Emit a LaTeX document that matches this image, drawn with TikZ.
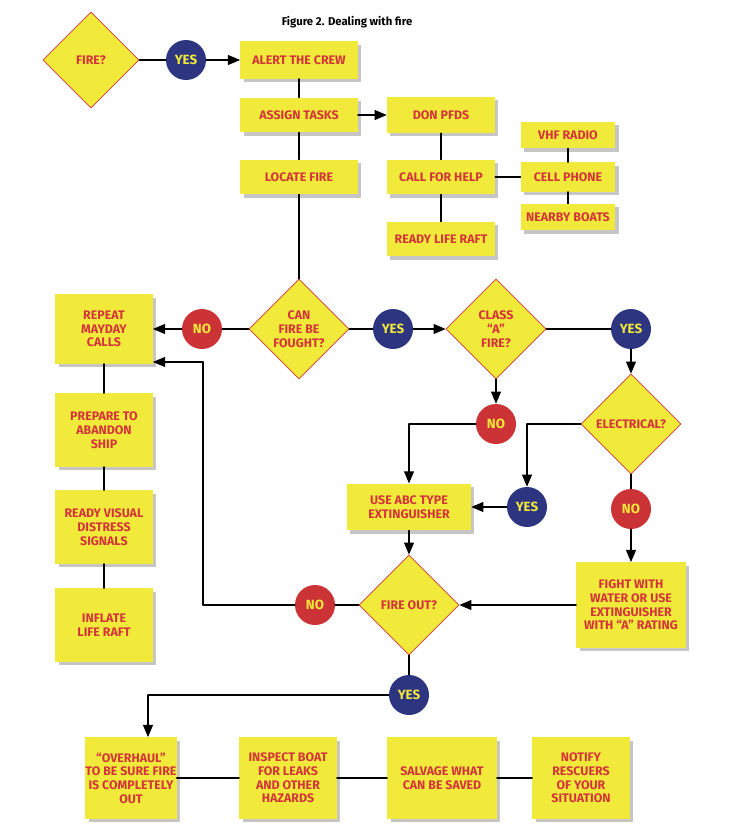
\documentclass[tikz,border=0pt]{standalone}
\usepackage{fontspec}
\setmainfont{Fira Sans}
\usetikzlibrary{arrows,shapes.geometric,shadows}
\definecolor{boxyel}{HTML}{F2EA3A}
\definecolor{txtred}{HTML}{D3353A}
\definecolor{yesblue}{HTML}{2E3580}
\definecolor{nored}{HTML}{CC3336}
\tikzset{
  task/.style={fill=boxyel,text=txtred,font=\bfseries\fontsize{9.3}{10.3}\selectfont,align=center,inner sep=0pt,
    drop shadow={shadow xshift=2.5pt,shadow yshift=-2.5pt,opacity=0.45}},
  ask/.style={diamond,draw=txtred,line width=0.5pt,fill=boxyel,text=txtred,font=\bfseries\fontsize{9.3}{10.3}\selectfont,
    align=center,minimum width=75pt,minimum height=75pt,inner sep=0pt},
  yes/.style={circle,fill=yesblue,text=boxyel,font=\bfseries\fontsize{10}{11}\selectfont,minimum size=30pt,inner sep=0pt},
  no/.style={circle,fill=nored,text=boxyel,font=\bfseries\fontsize{10}{11}\selectfont,minimum size=30pt,inner sep=0pt},
  link/.style={line width=1.1pt},
  go/.style={line width=1.1pt,-triangle 45}
}
\begin{document}
\begin{tikzpicture}[x=0.75pt,y=-0.75pt,line cap=round,line join=round]
\useasboundingbox (0,0) rectangle (748,836);
\node[font=\bfseries\fontsize{8.5}{9.5}\selectfont] (title) at (347,22) {Figure 2. Dealing with fire};
% top part
\node[ask,minimum width=72pt,minimum height=72pt] (fire) at (91,60) {FIRE?};
\node[yes] (y1) at (186,60) {YES};
\node[task,minimum width=88pt,minimum height=28pt] (alert) at (299,60) {ALERT THE CREW};
\node[task,minimum width=88pt,minimum height=26pt] (assign) at (299,115) {ASSIGN TASKS};
\node[task,minimum width=88pt,minimum height=26pt] (locate) at (299,177) {LOCATE FIRE};
\node[task,minimum width=81pt,minimum height=27pt] (don) at (441,115) {DON PFDS};
\node[task,minimum width=81pt,minimum height=26pt] (call) at (441,177) {CALL FOR HELP};
\node[task,minimum width=81pt,minimum height=26pt] (raft) at (441,239) {READY LIFE RAFT};
\node[task,minimum width=71pt,minimum height=20pt] (vhf) at (568,135) {VHF RADIO};
\node[task,minimum width=71pt,minimum height=22pt] (cell) at (568,177) {CELL PHONE};
\node[task,minimum width=71pt,minimum height=20pt] (boats) at (568,217) {NEARBY BOATS};
% middle
\node[ask] (fought) at (299,329) {CAN\\FIRE BE\\FOUGHT?};
\node[no] (n1) at (202,329) {NO};
\node[yes] (y2) at (393,329) {YES};
\node[ask] (classa) at (496,329) {CLASS\\``A''\\FIRE?};
\node[yes] (y3) at (631,329) {YES};
\node[ask] (elec) at (631,424) {ELECTRICAL?};
\node[no] (n2) at (496,424) {NO};
\node[task,minimum width=93pt,minimum height=35pt] (abc) at (409,507) {USE ABC TYPE\\EXTINGUISHER};
\node[yes] (y4) at (527,507) {YES};
\node[no] (n3) at (631,509) {NO};
\node[task,minimum width=82pt,minimum height=64pt] (water) at (631,605) {FIGHT WITH\\WATER OR USE\\EXTINGUISHER\\WITH ``A'' RATING};
\node[ask] (out) at (409,605) {FIRE OUT?};
\node[no] (n4) at (315,605) {NO};
\node[yes] (y5) at (409,695) {YES};
% left column
\node[task,minimum width=73pt,minimum height=52pt] (mayday) at (104,329) {REPEAT\\MAYDAY\\CALLS};
\node[task,minimum width=73pt,minimum height=55pt] (abandon) at (104,430) {PREPARE TO\\ABANDON\\SHIP};
\node[task,minimum width=73pt,minimum height=55pt] (signals) at (104,527) {READY VISUAL\\DISTRESS\\SIGNALS};
\node[task,minimum width=73pt,minimum height=55pt] (inflate) at (104,625) {INFLATE\\LIFE RAFT};
% bottom row
\node[task,minimum width=62pt,minimum height=61pt] (overhaul) at (131,778) {``OVERHAUL''\\TO BE SURE FIRE\\IS COMPLETELY\\OUT};
\node[task,minimum width=73pt,minimum height=61pt] (inspect) at (288,778) {INSPECT BOAT\\FOR LEAKS\\AND OTHER\\HAZARDS};
\node[task,minimum width=82pt,minimum height=61pt] (salvage) at (442,778) {SALVAGE WHAT\\CAN BE SAVED};
\node[task,minimum width=73pt,minimum height=61pt] (notify) at (581,778) {NOTIFY\\RESCUERS\\OF YOUR\\SITUATION};
\coordinate (c1) at (409,424);
\coordinate (c2) at (527,424);
\coordinate (c3) at (203,605);
\coordinate (c4) at (203,362);
\coordinate (c5) at (148,695);
% connectors
\draw[link] (fire) -- (y1);
\draw[go] (y1) -- (alert);
\draw[link] (alert) -- (assign);
\draw[link] (assign) -- (locate);
\draw[link] (locate) -- (fought);
\draw[go] (assign) -- (don);
\draw[link] (don) -- (call);
\draw[link] (call) -- (raft);
\draw[link] (call) -- (cell);
\draw[link] (vhf) -- (cell);
\draw[link] (cell) -- (boats);
\draw[link] (fought) -- (n1);
\draw[go] (n1) -- (mayday);
\draw[link] (mayday) -- (abandon);
\draw[link] (abandon) -- (signals);
\draw[link] (signals) -- (inflate);
\draw[link] (fought) -- (y2);
\draw[go] (y2) -- (classa);
\draw[link] (classa) -- (y3);
\draw[go] (y3) -- (elec);
\draw[go] (classa) -- (n2);
\draw[link] (n2) -- (c1);
\draw[go] (c1) -- (abc);
\draw[link] (elec.west) -- (c2);
\draw[go] (c2) -- (y4);
\draw[go] (y4) -- (abc);
\draw[link] (elec) -- (n3);
\draw[go] (n3) -- (water);
\draw[go] (abc) -- (out);
\draw[go] (water) -- (out);
\draw[link] (out) -- (n4);
\draw[link] (n4) -- (c3) -- (c4);
\draw[go] (c4) -- (mayday.east |- c4);
\draw[link] (out) -- (y5);
\draw[link] (y5) -- (c5);
\draw[go] (c5) -- (overhaul.north -| c5);
\draw[link] (overhaul) -- (inspect);
\draw[link] (inspect) -- (salvage);
\draw[link] (salvage) -- (notify);
\end{tikzpicture}
\end{document}
